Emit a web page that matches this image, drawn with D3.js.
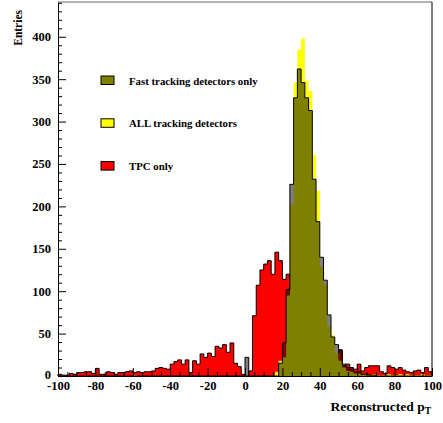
<!DOCTYPE html>
<html>
<head>
<meta charset="utf-8">
<script src="https://cdn.jsdelivr.net/npm/d3@7/dist/d3.min.js"></script>
<style>
  html, body { margin: 0; padding: 0; background: #fff; }
  svg { display: block; }
  text { font-family: "Liberation Serif", "Times New Roman", serif; font-weight: bold; fill: #000; }
</style>
</head>
<body>
<script>
// Histogram binning: 100 bins of width 2 over [-100, 100)
const binStart = -100;
const binWidth = 2;

// Entries per bin, ordered from the bin at -100 up to the bin at 98
const tpcOnly = [
  2,1,1,3,2,4,4,5,5,3,9,2,2,5,4,2,4,4,5,6,4,5,4,5,5,
  6,9,10,9,8,14,17,19,14,19,4,18,14,26,22,27,23,35,33,37,28,39,15,11,2,
  0,6,71,107,125,132,136,120,146,136,114,120,95,70,55,45,38,32,28,24,20,18,16,14,20,
  31,12,14,10,8,14,6,10,12,12,12,5,3,12,10,8,10,7,5,4,6,7,4,10,5
];
const allTracking = [
  0,0,0,0,0,0,0,0,0,0,0,0,0,0,0,0,0,0,0,0,1,0,0,0,0,
  0,0,0,0,0,0,0,0,0,0,1,0,0,0,0,0,0,0,0,0,0,0,0,0,0,
  0,0,0,0,0,0,0,0,5,18,22,95,202,346,385,398,348,336,261,218,129,107,58,48,27,
  18,10,6,5,3,3,2,2,1,2,1,1,1,2,1,1,2,1,2,1,1,1,2,1,1
];
const fastTracking = [
  0,0,0,0,0,0,0,0,0,0,0,0,0,0,0,0,0,0,0,0,0,0,0,0,0,
  0,0,0,0,0,0,0,0,0,0,1,0,0,0,0,0,0,0,0,0,0,0,0,0,0,
  22,0,0,0,0,0,0,0,0,15,39,102,226,328,362,346,328,313,232,182,140,113,72,46,37,
  30,14,10,8,5,5,2,2,1,1,0,0,0,0,0,0,0,0,0,0,0,0,0,0,0
];

const xTicks = [-100, -80, -60, -40, -20, 0, 20, 40, 60, 80, 100];
const yTicks = [0, 50, 100, 150, 200, 250, 300, 350, 400];
const legendLabels = ["Fast tracking detectors only", "ALL tracking detectors", "TPC only"];
const legendColors = ["#808000", "#ffff00", "#ff0000"];

const W = 443, H = 423;
const svg = d3.select("body").append("svg").attr("width", W).attr("height", H);

const x = d3.scaleLinear().domain([-100, 100]).range([58, 432]);
const y = d3.scaleLinear().domain([0, 441]).range([376, 2]);

// Step outline of a histogram: one point per bin edge
function stepPoints(values) {
  const pts = values.map((v, i) => [binStart + i * binWidth, v]);
  pts.push([binStart + values.length * binWidth, values[values.length - 1]]);
  return pts;
}
const area = d3.area().curve(d3.curveStepAfter)
  .x(d => x(d[0])).y0(y(0)).y1(d => y(d[1]));
function outline(values) {
  const pts = stepPoints(values);
  const line = d3.line().curve(d3.curveStepAfter).x(d => x(d[0])).y(d => y(d[1]));
  const first = pts[0][0], last = pts[pts.length - 1][0];
  return "M" + x(first) + "," + y(0) + "L" + line(pts).slice(1) + "L" + x(last) + "," + y(0);
}

const plot = svg.append("g");

// TPC only: solid red with black outline
plot.append("path").attr("d", area(stepPoints(tpcOnly))).attr("fill", "#ff0000");
plot.append("path").attr("d", outline(tpcOnly)).attr("fill", "none").attr("stroke", "#000").attr("stroke-width", 1);

// ALL tracking detectors: yellow
plot.append("path").attr("d", area(stepPoints(allTracking))).attr("fill", "#ffff00");

// Fast tracking detectors: half-dark shading over whatever lies beneath
plot.append("path").attr("d", area(stepPoints(fastTracking))).attr("fill", "rgba(0,0,0,0.5)");
plot.append("path").attr("d", outline(fastTracking)).attr("fill", "none").attr("stroke", "#000").attr("stroke-width", 1);

// Frame
svg.append("line").attr("x1", 58).attr("x2", 432).attr("y1", 2).attr("y2", 2).attr("stroke", "#666");
svg.append("line").attr("x1", 432).attr("x2", 432).attr("y1", 2).attr("y2", 376).attr("stroke", "#000");

// Y axis: major and minor ticks pointing into the plot
const yMinor = d3.range(0, 441, 10).filter(v => v % 50 !== 0);
svg.append("g").attr("transform", "translate(58,0)")
  .call(d3.axisLeft(y).tickValues(yMinor).tickSizeInner(-4).tickSizeOuter(0).tickFormat(""))
  .call(g => g.select(".domain").remove())
  .selectAll("line").attr("stroke", "#000");
const yAxis = svg.append("g").attr("transform", "translate(58,0)")
  .call(d3.axisLeft(y).tickValues(yTicks).tickSizeInner(-8).tickSizeOuter(0).tickPadding(7));
yAxis.select(".domain").attr("stroke", "#000");
yAxis.selectAll("text").attr("font-size", 12.5).style("font-family", "Liberation Serif").style("font-weight", "bold");
yAxis.selectAll(".tick text").filter(d => d === 0).attr("dy", "0.2em");

// X axis
const xMinor = d3.range(-100, 101, 5).filter(v => v % 20 !== 0);
svg.append("g").attr("transform", "translate(0,376)")
  .call(d3.axisBottom(x).tickValues(xMinor).tickSizeInner(-4).tickSizeOuter(0).tickFormat(""))
  .call(g => g.select(".domain").remove())
  .selectAll("line").attr("stroke", "#000");
const xAxis = svg.append("g").attr("transform", "translate(0,376)")
  .call(d3.axisBottom(x).tickValues(xTicks).tickSizeInner(-8).tickSizeOuter(0).tickPadding(5)
    .tickFormat(d => String(d).replace("\u2212", "-")));
xAxis.select(".domain").attr("stroke", "#000");
xAxis.selectAll("text").attr("font-size", 12.5).style("font-family", "Liberation Serif").style("font-weight", "bold");

// Axis titles
svg.append("text").attr("transform", "translate(22,10) rotate(-90)")
  .attr("text-anchor", "end").attr("font-size", 11.5).text("Entries");
const xt = svg.append("text").attr("x", 431).attr("y", 411).attr("text-anchor", "end").attr("font-size", 13.5);
xt.append("tspan").text("Reconstructed p");
xt.append("tspan").attr("font-size", 9.5).attr("dy", 3).text("T");

// Legend
const legend = svg.append("g");
legendLabels.forEach((label, i) => {
  const yy = 76 + i * 42.8;
  legend.append("rect").attr("x", 101).attr("y", yy).attr("width", 13).attr("height", 8.5)
    .attr("fill", legendColors[i]).attr("stroke", "#000").attr("stroke-width", 1);
  legend.append("text").attr("x", 129).attr("y", yy + 8.5).attr("font-size", 10.8).text(label);
});
</script>
</body>
</html>
